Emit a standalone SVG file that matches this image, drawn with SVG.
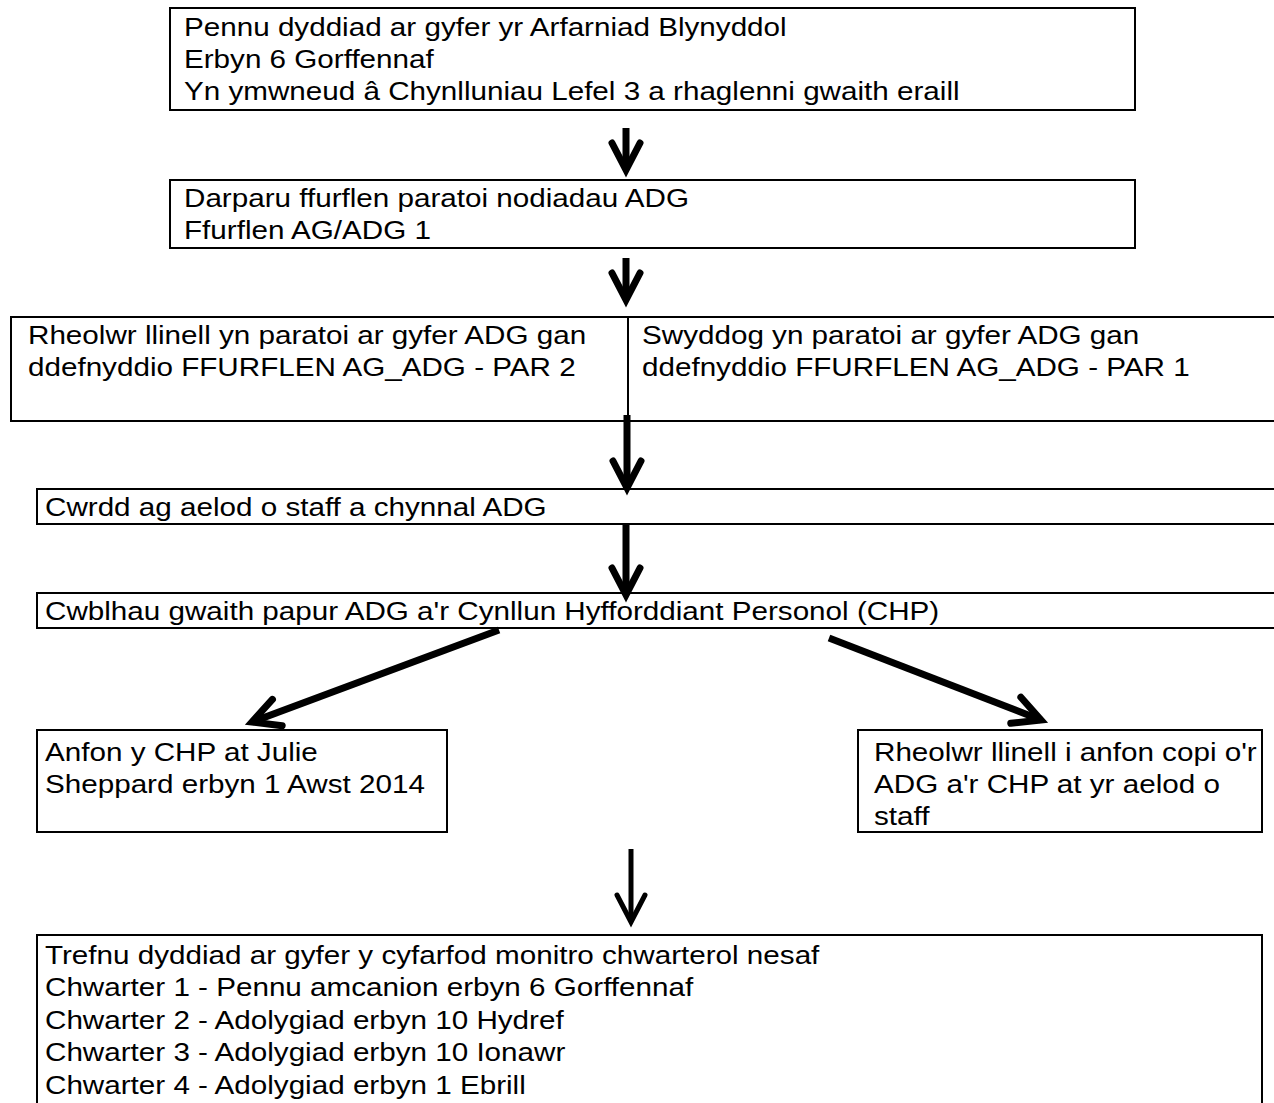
<svg xmlns="http://www.w3.org/2000/svg" width="1274" height="1103" viewBox="0 0 1274 1103">
<style>
.box{fill:#fff;stroke:#000;stroke-width:2}
.t{font-family:"Liberation Sans",Arial,sans-serif;font-size:25px;fill:#000}
.c{fill:none;stroke:#000;stroke-width:7}
.c2{fill:none;stroke:#000;stroke-width:5}
</style>
<defs>
<marker id="ah" markerUnits="userSpaceOnUse" orient="auto" overflow="visible" refX="0" refY="0" markerWidth="1" markerHeight="1">
<path d="M-27,-14 L0,0 L-27,14" fill="none" stroke="#000" stroke-width="7" stroke-linecap="round"/>
</marker>
<marker id="ah2" markerUnits="userSpaceOnUse" orient="auto" overflow="visible" refX="0" refY="0" markerWidth="1" markerHeight="1">
<path d="M-27,-14 L0,0 L-27,14" fill="none" stroke="#000" stroke-width="5" stroke-linecap="round"/>
</marker>
</defs>
<rect width="1274" height="1103" fill="#fff"/>
<g id="n1">
<rect class="box" x="170" y="8" width="965" height="102"/>
<text class="t" transform="translate(184,36) scale(1.185,1)"><tspan x="0" y="0">Pennu dyddiad ar gyfer yr Arfarniad Blynyddol</tspan><tspan x="0" y="32">Erbyn 6 Gorffennaf</tspan><tspan x="0" y="64">Yn ymwneud â Chynlluniau Lefel 3 a rhaglenni gwaith eraill</tspan></text>
</g>
<g id="n2">
<rect class="box" x="170" y="180" width="965" height="68"/>
<text class="t" transform="translate(184,207) scale(1.185,1)"><tspan x="0" y="0">Darparu ffurflen paratoi nodiadau ADG</tspan><tspan x="0" y="32">Ffurflen AG/ADG 1</tspan></text>
</g>
<g id="n3">
<rect class="box" x="11" y="317" width="617" height="104"/>
<text class="t" transform="translate(28,344) scale(1.185,1)"><tspan x="0" y="0">Rheolwr llinell yn paratoi ar gyfer ADG gan</tspan><tspan x="0" y="32">ddefnyddio FFURFLEN AG_ADG - PAR 2</tspan></text>
</g>
<g id="n4">
<rect class="box" x="628" y="317" width="650" height="104"/>
<text class="t" transform="translate(642,344) scale(1.185,1)"><tspan x="0" y="0">Swyddog yn paratoi ar gyfer ADG gan</tspan><tspan x="0" y="32">ddefnyddio FFURFLEN AG_ADG - PAR 1</tspan></text>
</g>
<g id="n5">
<rect class="box" x="37" y="489" width="1241" height="35"/>
<text class="t" transform="translate(45,516) scale(1.185,1)">Cwrdd ag aelod o staff a chynnal ADG</text>
</g>
<g id="n6">
<rect class="box" x="37" y="593" width="1241" height="35"/>
<text class="t" transform="translate(45,620) scale(1.185,1)">Cwblhau gwaith papur ADG a'r Cynllun Hyfforddiant Personol (CHP)</text>
</g>
<g id="n7">
<rect class="box" x="37" y="730" width="410" height="102"/>
<text class="t" transform="translate(45,761) scale(1.185,1)"><tspan x="0" y="0">Anfon y CHP at Julie</tspan><tspan x="0" y="32">Sheppard erbyn 1 Awst 2014</tspan></text>
</g>
<g id="n8">
<rect class="box" x="858" y="730" width="404" height="102"/>
<text class="t" transform="translate(874,761) scale(1.185,1)"><tspan x="0" y="0">Rheolwr llinell i anfon copi o'r</tspan><tspan x="0" y="32">ADG a'r CHP at yr aelod o</tspan><tspan x="0" y="64">staff</tspan></text>
</g>
<g id="n9">
<rect class="box" x="37" y="935" width="1225" height="180"/>
<text class="t" transform="translate(45,964) scale(1.185,1)"><tspan x="0" y="0">Trefnu dyddiad ar gyfer y cyfarfod monitro chwarterol nesaf</tspan><tspan x="0" y="32.5">Chwarter 1 - Pennu amcanion erbyn 6 Gorffennaf</tspan><tspan x="0" y="65">Chwarter 2 - Adolygiad erbyn 10 Hydref</tspan><tspan x="0" y="97.5">Chwarter 3 - Adolygiad erbyn 10 Ionawr</tspan><tspan x="0" y="130">Chwarter 4 - Adolygiad erbyn 1 Ebrill</tspan></text>
</g>
<g id="connectors">
<line class="c" x1="626" y1="128" x2="626" y2="170" marker-end="url(#ah)"/>
<line class="c" x1="626" y1="258" x2="626" y2="300" marker-end="url(#ah)"/>
<line class="c" x1="627" y1="415" x2="627" y2="488" marker-end="url(#ah)"/>
<line class="c" x1="626" y1="523" x2="626" y2="595" marker-end="url(#ah)"/>
<line class="c" x1="499" y1="630" x2="252" y2="722" marker-end="url(#ah)"/>
<line class="c" x1="829" y1="638" x2="1041" y2="720" marker-end="url(#ah)"/>
<line class="c2" x1="631" y1="849" x2="631" y2="922" marker-end="url(#ah2)"/>
</g>
</svg>
